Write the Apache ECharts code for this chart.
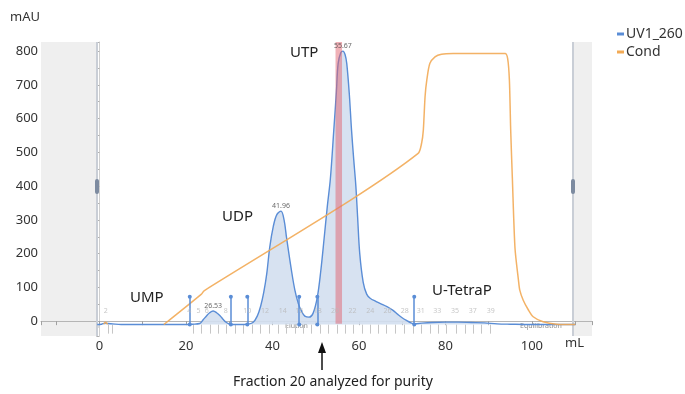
<!DOCTYPE html>
<html><head><meta charset="utf-8">
<script src="https://cdn.jsdelivr.net/npm/echarts@6/dist/echarts.min.js"></script>
<style>html,body{margin:0;padding:0;background:#fff}#c{width:685px;height:394px}</style>
</head><body><div id="c"></div>
<script>
// UV1_260 trace [mL, mAU]
const uvData = [[-0.5,-10],[0.5,-9],[1.3,-6],[2.0,-7],[3.0,-8],[5,-10],[10,-10],[15,-10],[20,-10],[21.5,-9],[23.2,-7],[24.0,4],[24.8,16],[25.5,25],[26.3,30],[27.1,25],[27.9,16],[28.7,4],[29.4,-4],[30.4,-10],[32.5,-10],[34.2,-9],[35.5,-4],[36.5,15],[37.3,45],[38.0,85],[38.7,141],[39.4,220],[40.2,280],[41.0,315],[42.0,326],[42.7,300],[43.3,245],[44.4,151],[45.2,92],[46.0,52],[46.8,28],[47.5,15],[48.5,12],[49.4,23],[50.4,72],[51.2,150],[52.0,250],[52.7,340],[53.4,421],[54.2,566],[54.8,680],[55.2,763],[55.8,795],[56.3,800],[56.8,790],[57.2,763],[57.8,670],[58.3,566],[58.8,480],[59.3,400],[59.7,310],[60.2,200],[61.0,115],[61.8,80],[62.6,68],[64.0,58],[65.0,52],[66.5,43],[67.9,32],[69.0,20],[70.0,10],[71.0,2],[72.0,-5],[72.8,-8],[74.5,-6],[77,-4],[80,-3],[83,-3],[86,-4],[89,-5],[92,-8],[95,-9],[100,-10],[105,-10],[110,-10]];
// Conductivity trace, drawn on the same plot scale ('-' = hidden under the UV baseline)
const condData = [[1.0,-9],[1.4,-3],[1.9,-9],[5,'-'],[14.9,-10],[23.6,80],[24.2,90],[57.9,357],[73.7,497],[74.5,527],[74.9,566],[75.3,665],[75.7,714],[76.4,763],[77.6,783],[79.1,791],[81.8,793],[93.8,793],[94.4,778],[94.8,714],[95.1,566],[95.5,418],[96.1,215],[96.9,121],[97.2,92],[98.0,62],[99.2,33],[100.3,13],[102.6,-2],[105.7,-9],[110,-10]];
const peakX = [26.3, 42.0, 56.3];
const peakY = [30, 326, 800];
const peakText = ['26.53', '41.96', '55.67'];
const fracLabelX = [1.5, 20.8, 22.9, 24.8, 29.2, 34.2, 38.3, 42.4, 46.2, 50.5, 54.5, 58.5, 62.6, 66.6, 70.6, 74.3, 78.1, 82.2, 86.3, 90.5];
const fracLabelText = ['2','4','5','6','8','10','12','14','16','18','20','22','24','26','28','31','33','35','37','39'];
const fracMarkerX = [20.9, 30.4, 34.2, 46.2, 50.4, 72.8];
const fracBounds = [2.0, 3.0, 21.7, 23.6, 25.6, 27.5, 29.4, 31.4, 33.3, 35.3, 37.3, 39.3, 41.3, 43.2, 45.2, 47.1, 49.1, 51.0, 52.9, 54.9, 56.8, 58.8, 60.7, 62.6, 64.5, 66.4, 68.3, 70.4, 72.6, 74.5, 76.4, 78.4, 80.3, 82.4, 84.5, 86.4, 88.4, 90.3];
const fraction20 = [54.6, 56.1];
const xRange = [-13.5, 113.9];
const yRange = [-44, 827];

const FONT = 'Noto Sans';
const chart = echarts.init(document.getElementById('c'), null, {renderer: 'canvas'});
const blue = '#5a8dd6';
const orange = '#f2aa55';

chart.setOption({
  animation: false,
  textStyle: {fontFamily: FONT},
  grid: {left: 41, right: 93, top: 42, bottom: 58, containLabel: false},
  legend: {
    orient: 'vertical', left: 612, top: 22, itemGap: 4,
    icon: 'rect', itemWidth: 7, itemHeight: 3,
    textStyle: {fontSize: 14, color: '#333', fontFamily: FONT, padding: [0, 0, 0, -3]},
    data: ['UV1_260', 'Cond']
  },
  xAxis: {
    type: 'value', min: xRange[0], max: xRange[1], minInterval: 10, maxInterval: 10,
    axisLine: {show: true, lineStyle: {color: '#b5b5b5', width: 1}},
    axisTick: {show: true, length: 4, lineStyle: {color: '#a0a0a0'}},
    axisLabel: {fontSize: 13, color: '#333', margin: 4, fontFamily: FONT,
      formatter: v => (Math.abs(v % 20) < 1e-6 && v >= 0 && v <= 100) ? String(v) : ''},
    splitLine: {show: false}
  },
  yAxis: [{
    type: 'value', min: yRange[0], max: yRange[1], minInterval: 50, maxInterval: 50,
    axisLine: {show: true, lineStyle: {color: '#d0d0d0'}},
    axisTick: {show: true, length: 3, lineStyle: {color: '#b0b0b0'}},
    axisLabel: {fontSize: 13, color: '#333', margin: 3, fontFamily: FONT,
      formatter: v => (Math.abs(v % 100) < 1e-6 && v >= 0 && v <= 800) ? String(v) : ''},
    splitLine: {show: false}
  }],
  series: [
    {
      name: 'deco', type: 'line', data: [], z: 1, silent: true,
      markArea: {silent: true, z: 0, itemStyle: {color: '#efefef'},
        data: [
          [{xAxis: xRange[0], yAxis: yRange[0]}, {xAxis: -0.5, yAxis: yRange[1]}],
          [{xAxis: 109.5, yAxis: yRange[0]}, {xAxis: xRange[1], yAxis: yRange[1]}]
        ]},
      markLine: {silent: true, symbol: 'none', label: {show: false}, z: 1,
        lineStyle: {color: '#c9ced6', width: 2, type: 'solid'},
        data: [[{coord: [-0.5, yRange[0]]}, {coord: [-0.5, yRange[1]]}],
               [{coord: [109.5, yRange[0]]}, {coord: [109.5, yRange[1]]}]]}
    },
    {
      name: 'UV1_260', type: 'line', data: uvData, smooth: 0.35, showSymbol: false, z: 3,
      itemStyle: {color: blue},
      lineStyle: {color: blue, width: 1.4},
      areaStyle: {color: '#d3dff0', opacity: 0.9, origin: -10},
      markLine: {silent: true, symbol: 'none', label: {show: false}, z: 2,
        lineStyle: {color: '#c6c6c6', width: 1, type: 'solid'},
        data: fracBounds.map(x => [{coord: [x, -10]}, {coord: [x, -37]}])}
    },
    {
      name: 'markers', type: 'line', data: [], z: 4, silent: true,
      markLine: {silent: true, symbol: ['circle', 'circle'], symbolSize: 4, label: {show: false}, z: 6,
        lineStyle: {color: blue, width: 1.5, type: 'solid'}, itemStyle: {color: blue},
        data: fracMarkerX.map(x => [{coord: [x, -10]}, {coord: [x, 72]}])}
    },
    {
      name: 'Cond', type: 'line', data: condData, smooth: 0.25, showSymbol: false, z: 5,
      connectNulls: false,
      itemStyle: {color: orange},
      lineStyle: {color: orange, width: 1.5, opacity: 0.9}
    },
    {
      name: 'band', type: 'line', data: [], z: 8, silent: true,
      markArea: {silent: true, z: 8, itemStyle: {color: 'rgba(226,100,112,0.5)'},
        data: [[{xAxis: fraction20[0], yAxis: -8}, {xAxis: fraction20[1], yAxis: yRange[1]}]]}
    },
    {
      name: 'peaks', type: 'scatter', z: 9, silent: true, symbolSize: 1,
      itemStyle: {color: 'rgba(0,0,0,0)'},
      data: peakX.map((x, i) => ({value: [x, peakY[i]], label: {formatter: peakText[i]}})),
      label: {show: true, position: 'top', distance: 1, fontSize: 7, color: '#444', fontFamily: FONT}
    },
    {
      name: 'fracs', type: 'scatter', z: 9, silent: true, symbolSize: 1,
      itemStyle: {color: 'rgba(0,0,0,0)'},
      data: fracLabelX.map((x, i) => ({value: [x, 30], label: {formatter: fracLabelText[i]}})),
      label: {show: true, position: 'inside', fontSize: 7, color: '#b8b8b8', fontFamily: FONT}
    }
  ],
  graphic: [
    {type: 'rect', shape: {x: 95, y: 179, width: 4, height: 15, r: 2}, style: {fill: '#7d8ba0'}, z: 10},
    {type: 'rect', shape: {x: 571, y: 179, width: 4, height: 15, r: 2}, style: {fill: '#7d8ba0'}, z: 10},
    {type: 'text', left: 10, top: 11, style: {text: 'mAU', fontSize: 13, fill: '#333', fontFamily: FONT}},
    {type: 'text', left: 565, top: 337, style: {text: 'mL', fontSize: 13, fill: '#333', fontFamily: FONT}},
    {type: 'text', left: 57, top: 322, style: {text: 'Equilibration', fontSize: 7, fill: '#8a8a8a', fontFamily: FONT}},
    {type: 'text', left: 285, top: 322, style: {text: 'Elution', fontSize: 7, fill: '#8a8a8a', fontFamily: FONT}},
    {type: 'text', left: 520, top: 322, style: {text: 'Equilibration', fontSize: 7, fill: '#8a8a8a', fontFamily: FONT}},
    {type: 'text', left: 130, top: 290, style: {text: 'UMP', fontSize: 15, fill: '#222', fontFamily: FONT}},
    {type: 'text', left: 222, top: 209, style: {text: 'UDP', fontSize: 15, fill: '#222', fontFamily: FONT}},
    {type: 'text', left: 290, top: 45, style: {text: 'UTP', fontSize: 15, fill: '#222', fontFamily: FONT}},
    {type: 'text', left: 432, top: 283, style: {text: 'U-TetraP', fontSize: 15, fill: '#222', fontFamily: FONT}},
    {type: 'line', shape: {x1: 322, y1: 370, x2: 322, y2: 350}, style: {stroke: '#111', lineWidth: 1.5}},
    {type: 'polygon', shape: {points: [[322, 342], [318, 353], [326, 353]]}, style: {fill: '#111'}},
    {type: 'text', left: 233, top: 375, style: {text: 'Fraction 20 analyzed for purity', fontSize: 14, fill: '#222', fontFamily: FONT}}
  ]
});
</script></body></html>
